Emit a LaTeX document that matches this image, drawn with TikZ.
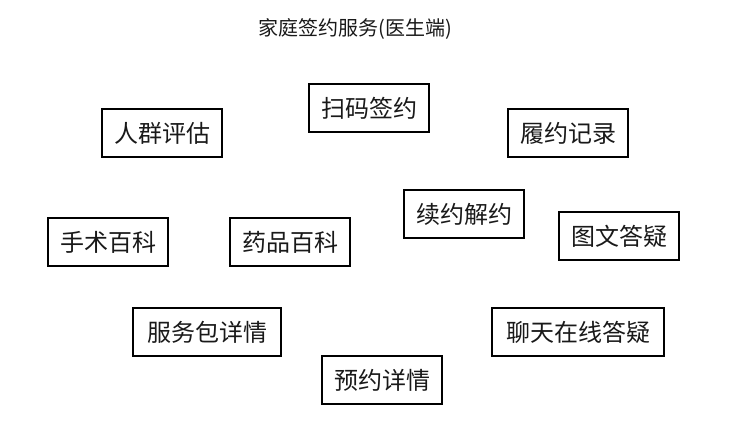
\documentclass[tikz,border=0pt]{standalone}
\usepackage{fontspec}
\newfontfamily\cjk{Noto Sans CJK SC}
\begin{document}
\begin{tikzpicture}[x=1pt,y=-1pt,
  box/.style={draw=black,line width=1.2pt,inner sep=0pt,font=\cjk\fontsize{24}{26}\selectfont,text=black!90},
  ttl/.style={font=\cjk\fontsize{20}{22}\selectfont,text=black!90}]
\useasboundingbox (0,0) rectangle (738,425);
\node[ttl] (title) at (355,29) {家庭签约服务(医生端)};
\newcommand{\bx}[6]{\node[box,minimum width={#3-#2},minimum height={#5-#4}] (#1) at ({(#2+#3)/2},{(#4+#5)/2}) {#6};}
\bx{scan}{309}{429}{84}{132}{扫码签约}
\bx{crowd}{102}{222}{109}{157}{人群评估}
\bx{record}{508}{628}{109}{157}{履约记录}
\bx{surgery}{48}{168}{218}{266}{手术百科}
\bx{drug}{230}{350}{218}{266}{药品百科}
\bx{renew}{404}{524}{190}{238}{续约解约}
\bx{qa}{559}{679}{212}{260}{图文答疑}
\bx{pkg}{133}{281}{308}{356}{服务包详情}
\bx{chat}{492}{664}{308}{356}{聊天在线答疑}
\bx{appt}{322}{442}{356}{404}{预约详情}
\end{tikzpicture}
\end{document}
